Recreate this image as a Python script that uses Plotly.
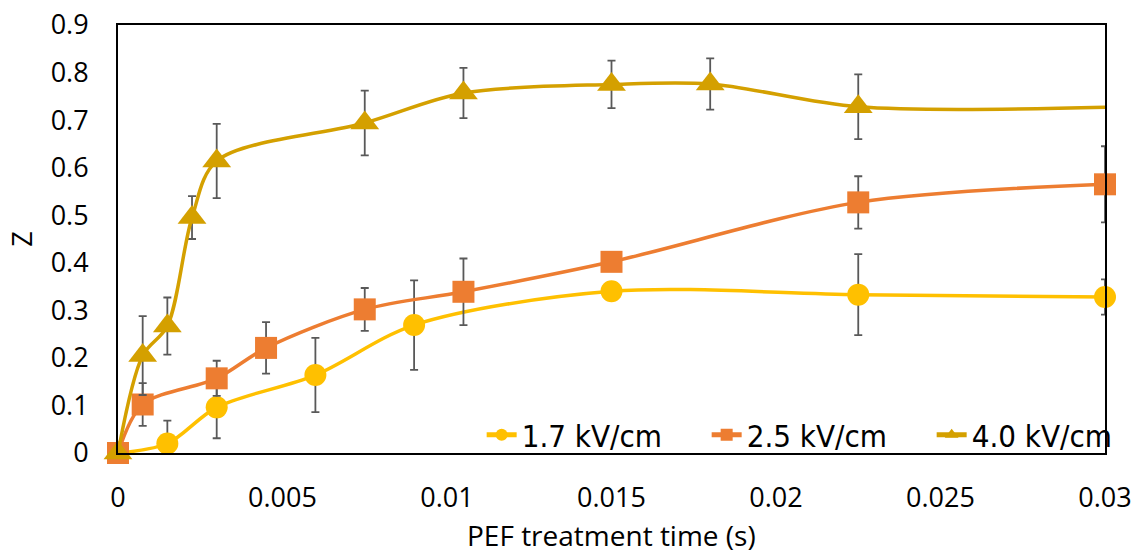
import plotly.graph_objects as go

# ---- data ----
t_17 = [0, 0.0015, 0.003, 0.006, 0.009, 0.015, 0.0225, 0.03]
z_17 = [0, 0.020, 0.096, 0.164, 0.269, 0.340, 0.333, 0.328]
e_17 = [0, 0.048, 0.065, 0.078, 0.094, 0, 0.085, 0.037]

t_25 = [0, 0.00075, 0.003, 0.0045, 0.0075, 0.0105, 0.015, 0.0225, 0.03]
z_25 = [0, 0.102, 0.157, 0.221, 0.302, 0.339, 0.402, 0.527, 0.565]
e_25 = [0, 0.045, 0.037, 0.054, 0.045, 0.070, 0, 0.055, 0.080]

t_40 = [0, 0.00075, 0.0015, 0.00225, 0.003, 0.0075, 0.0105, 0.015, 0.018, 0.0225, 0.03]
z_40 = [0, 0.205, 0.267, 0.495, 0.614, 0.694, 0.757, 0.775, 0.776, 0.728, 0.727]
e_40 = [0, 0.083, 0.060, 0.045, 0.078, 0.068, 0.053, 0.050, 0.054, 0.068, 0]
marker_shown_40 = [1, 1, 1, 1, 1, 1, 1, 1, 1, 1, 0]

series_names = ["1.7 kV/cm", "2.5 kV/cm", "4.0 kV/cm"]
x_title = "PEF treatment time (s)"
y_title = "Z"
x_ticks = [0, 0.005, 0.01, 0.015, 0.02, 0.025, 0.03]
x_ticktext = ["0", "0.005", "0.01", "0.015", "0.02", "0.025", "0.03"]
y_ticks = [0, 0.1, 0.2, 0.3, 0.4, 0.5, 0.6, 0.7, 0.8, 0.9]
y_ticktext = ["0", "0.1", "0.2", "0.3", "0.4", "0.5", "0.6", "0.7", "0.8", "0.9"]

colors = ["#FFC000", "#ED7D31", "#D4A000"]
symbols = ["circle", "square", "triangle-up"]
ERR_COLOR = "#595959"

fig = go.Figure()

def add_series(t, z, e, name, color, symbol, size):
    minus = [min(ei, zi) for ei, zi in zip(e, z)]
    fig.add_trace(go.Scatter(
        x=t, y=z, name=name, mode="lines+markers",
        line=dict(color=color, width=3.5, shape="spline", smoothing=0.9),
        marker=dict(color=color, symbol=symbol, size=size, opacity=1,
                    line=dict(width=0)),
        error_y=dict(type="data", array=e, arrayminus=minus, visible=True,
                     color=ERR_COLOR, thickness=1.8, width=4),
        cliponaxis=False,
    ))

add_series(t_17, z_17, e_17, series_names[0], colors[0], symbols[0], 22)
add_series(t_25, z_25, e_25, series_names[1], colors[1], symbols[1], 22)
add_series(t_40, z_40, e_40, series_names[2], colors[2], symbols[2],
           [25 * s for s in marker_shown_40])

tick_font = dict(family="Open Sans", size=27, color="#000000")
title_font = dict(family="Open Sans", size=28, color="#000000")

fig.update_layout(
    width=1136, height=555,
    margin=dict(l=118, r=31, t=25, b=102, autoexpand=False),
    paper_bgcolor="white", plot_bgcolor="white",
    showlegend=True,
    legend=dict(
        orientation="h", xref="container", yref="container",
        x=0.424, xanchor="left", y=0.216, yanchor="middle",
        bgcolor="rgba(0,0,0,0)",
        font=dict(family="DejaVu Sans Condensed, Roboto, sans-serif", size=31,
                  color="#000000"),
        entrywidth=180, itemsizing="constant",
    ),
    xaxis=dict(
        range=[0, 0.03], tickvals=x_ticks, ticktext=x_ticktext,
        showline=True, linecolor="#000000", linewidth=2, mirror=True,
        showgrid=False, zeroline=False, ticks="", automargin=False,
        tickfont=tick_font, ticklabelstandoff=20,
    ),
    yaxis=dict(
        range=[0, 0.9], tickvals=y_ticks, ticktext=y_ticktext,
        showline=True, linecolor="#000000", linewidth=2, mirror=True,
        showgrid=False, zeroline=False, ticks="", automargin=False,
        tickfont=tick_font, ticklabelstandoff=22,
        title=dict(text=y_title, font=tick_font, standoff=10),
    ),
    annotations=[dict(
        text=x_title, xref="paper", yref="paper", x=0.5, y=-0.2375,
        xanchor="center", yanchor="bottom", showarrow=False, font=title_font,
        borderpad=0,
    )],
)

fig.write_html("out.html")
